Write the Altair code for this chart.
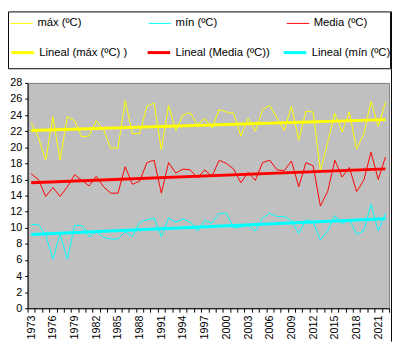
import altair as alt
import pandas as pd

years = list(range(1973, 2023))

t_max = [23.1, 21.2, 18.4, 23.8, 18.4, 23.8, 23.3, 21.3, 21.4, 23.3,
         22.2, 19.9, 19.9, 25.8, 21.7, 21.7, 25.1, 25.5, 19.7, 25.2,
         22.1, 24.0, 24.3, 22.8, 23.6, 22.4, 24.7, 24.4, 24.2, 21.4,
         23.6, 22.0, 24.7, 25.2, 23.6, 22.1, 25.1, 20.9, 24.5, 24.4,
         17.0, 20.6, 24.2, 21.9, 24.4, 19.8, 21.6, 25.7, 22.6, 25.6]

t_min = [10.4, 10.4, 9.1, 6.1, 9.2, 6.1, 10.3, 10.3, 8.9, 9.5,
         8.8, 8.6, 8.6, 9.5, 8.9, 10.7, 11.0, 11.2, 8.9, 11.2,
         10.7, 11.1, 10.7, 9.6, 10.9, 10.6, 11.8, 11.8, 10.0, 10.1,
         10.3, 9.6, 11.2, 11.8, 11.4, 11.4, 10.9, 9.3, 11.0, 10.7,
         8.5, 9.6, 11.5, 10.5, 11.0, 9.2, 9.6, 12.9, 9.6, 11.8]

t_media = [16.7, 16.0, 13.9, 15.0, 13.9, 15.1, 16.6, 15.9, 15.2, 16.4,
           15.1, 14.3, 14.3, 17.6, 15.4, 15.8, 18.1, 18.4, 14.3, 18.1,
           16.8, 17.3, 17.2, 16.2, 17.2, 16.4, 18.4, 18.0, 17.3, 15.6,
           16.9, 15.9, 18.1, 18.4, 17.2, 17.1, 18.3, 15.1, 18.1, 17.7,
           12.7, 14.5, 18.4, 16.3, 17.5, 14.5, 15.9, 19.4, 16.0, 18.8]

series_names = ["máx (ºC)", "mín (ºC)", "Media (ºC)"]
series_colors = ["#FFFF00", "#00FFFF", "#FF0000"]
trend_names = ["Lineal (máx (ºC) )", "Lineal (Media (ºC))", "Lineal (mín (ºC)"]
trend_colors = ["#FFFF00", "#FF0000", "#00FFFF"]

rows = []
for name, vals in zip(series_names, [t_max, t_min, t_media]):
    for yr, v in zip(years, vals):
        rows.append({"anio": yr, "serie": name, "valor": v})
df = pd.DataFrame(rows)

boundaries = [1972.5 + i for i in range(51)]

x_enc = alt.X(
    "anio:Q",
    scale=alt.Scale(domain=[1972.5, 2022.5], nice=False, zero=False),
    axis=alt.Axis(
        values=boundaries,
        labelExpr="(datum.value - 1972.5) % 3 == 0 ? '' + (datum.value + 0.5) : ''",
        labelAngle=270, labelOffset=3.69, tickSize=4, title=None, grid=False,
        domainColor="black", tickColor="black", labelColor="black",
        labelFont="Liberation Sans", labelFontSize=11, labelPadding=3,
        labelOverlap=False, labelFlush=False,
    ),
)
y_enc = alt.Y(
    "valor:Q",
    scale=alt.Scale(domain=[0, 28], nice=False),
    axis=alt.Axis(
        values=list(range(0, 29, 2)), tickSize=3, grid=False, title=None,
        domainColor="black", tickColor="black", labelColor="black",
        labelFont="Liberation Sans", labelFontSize=11, labelPadding=3,
    ),
)

common_leg = dict(
    title=None, orient="none", direction="horizontal", columns=3,
    gridAlign="all", rowPadding=0, symbolType="stroke", symbolSize=529,
    labelFont="Liberation Sans", labelFontSize=11.5, labelColor="black",
    labelOffset=4, padding=0, labelLimit=200,
)
leg_series = alt.Legend(legendX=-18, legendY=-73, columnPadding=56,
                        symbolStrokeWidth=1, **common_leg)
leg_trend = alt.Legend(legendX=-18, legendY=-44, columnPadding=7,
                       symbolStrokeWidth=3, **common_leg)

base = alt.Chart(df)

lines = base.mark_line(strokeWidth=1).encode(
    x=x_enc, y=y_enc,
    color=alt.Color("serie:N", scale=alt.Scale(domain=series_names, range=series_colors),
                    legend=leg_series),
)

trend_expr = ("datum.serie == 'máx (ºC)' ? 'Lineal (máx (ºC) )' : "
              "(datum.serie == 'Media (ºC)' ? 'Lineal (Media (ºC))' : 'Lineal (mín (ºC)')")
trends = base.transform_regression(
    "anio", "valor", groupby=["serie"], method="linear"
).transform_calculate(tendencia=trend_expr).mark_line(strokeWidth=3).encode(
    x=x_enc, y=y_enc,
    stroke=alt.Stroke("tendencia:N", scale=alt.Scale(domain=trend_names, range=trend_colors),
                      legend=leg_trend),
)

frame_data = alt.Data(values=[{"k": 1}])
legend_box = alt.Chart(frame_data).mark_rect(
    fillOpacity=0, stroke="black", strokeWidth=1
).encode(
    x=alt.value(-19.5), x2=alt.value(370.5), y=alt.value(-72.5), y2=alt.value(-14.5)
)
right_border = alt.Chart(frame_data).mark_rule(color="black", strokeWidth=1).encode(
    x=alt.value(371.5), y=alt.value(-73), y2=alt.value(264)
)

chart = alt.layer(lines, trends, legend_box, right_border).properties(
    width=369, height=230,
    padding={"left": 20, "top": 73, "right": 4, "bottom": 34},
    autosize="none",
    background="white",
).configure_view(
    fill="#C0C0C0", stroke="#808080", strokeWidth=1
)

chart.save("out.html", embed_options={"renderer": "svg", "actions": False})
